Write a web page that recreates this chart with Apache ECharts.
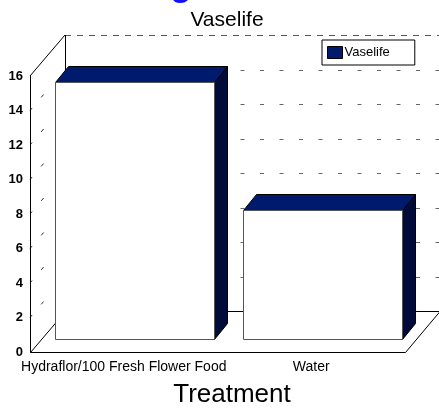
<!DOCTYPE html>
<html>
<head>
<meta charset="utf-8">
<script src="https://cdn.jsdelivr.net/npm/echarts@6/dist/echarts.min.js"></script>
<style>html,body{margin:0;padding:0;background:#fff}#c{width:439px;height:412px}</style>
</head>
<body>
<div id="c"></div>
<script>
// ---- data ----
const categories = ['Hydraflor/100 Fresh Flower Food', 'Water'];
const vaselife = [14.9, 7.5];
const yTicks = [0, 2, 4, 6, 8, 10, 12, 14, 16];
const seriesName = 'Vaselife';
const chartTitle = 'Vaselife';
const xTitle = 'Treatment';

// ---- styling geometry ----
const FONT = "'Liberation Sans', Arial, sans-serif";
const WALL = [35, -41];      // full depth offset
const BFRONT = [11, -13];    // bar front plane offset
const BDEPTH = [13, -16];    // bar depth
const BAR_RATIO = 0.85;
const NAVY_TOP = '#001a6e';
const NAVY_SIDE = '#000b3a';

const chart = echarts.init(document.getElementById('c'), null, {renderer: 'canvas'});

function px(v){ return Math.round(v) + 0.5; }

function renderFrame(params, api) {
  const bandW = api.size([1, 0])[0];
  const xl = api.coord([0, 0])[0] - bandW / 2;
  const xr = api.coord([categories.length - 1, 0])[0] + bandW / 2;
  const y0 = api.coord([0, 0])[1];
  const yTop = api.coord([0, yTicks[yTicks.length - 1]])[1];
  const ch = [];
  // back wall gridlines
  yTicks.forEach(function (t, i) {
    if (t === 0) return;
    const y = api.coord([0, t])[1] + WALL[1];
    const isTop = i === yTicks.length - 1;
    ch.push({type: 'line', shape: {x1: xl + WALL[0], y1: px(y), x2: xr + WALL[0] + 5, y2: px(y)},
      style: {stroke: isTop ? '#555' : '#666', lineWidth: 1, lineDash: isTop ? [6, 6] : [4, 15.5]}});
    // side wall dashes
    if (!isTop) {
      const yf = api.coord([0, t])[1];
      [[0, 0.06], [0.32, 0.39]].forEach(function (s) {
        ch.push({type: 'line', shape: {x1: xl + WALL[0] * s[0], y1: yf + WALL[1] * s[0], x2: xl + WALL[0] * s[1], y2: yf + WALL[1] * s[1]},
          style: {stroke: '#333', lineWidth: 1}});
      });
    }
  });
  // back wall left edge
  ch.push({type: 'line', shape: {x1: px(xl + WALL[0]), y1: yTop + WALL[1], x2: px(xl + WALL[0]), y2: y0 + WALL[1]},
    style: {stroke: '#000', lineWidth: 1}});
  // side wall top edge
  ch.push({type: 'line', shape: {x1: xl, y1: yTop, x2: xl + WALL[0], y2: yTop + WALL[1]},
    style: {stroke: '#000', lineWidth: 1}});
  // floor
  ch.push({type: 'polygon', shape: {points: [[px(xl), px(y0)], [px(xr), px(y0)], [xr + WALL[0], px(y0 + WALL[1])], [px(xl + WALL[0]), px(y0 + WALL[1])]]},
    style: {fill: '#fff', stroke: '#000', lineWidth: 1}});
  return {type: 'group', children: ch};
}

function renderFront(params, api) {
  const xl = api.coord([0, 0])[0] - api.size([1, 0])[0] / 2;
  const y0 = api.coord([0, 0])[1];
  const yTop = api.coord([0, yTicks[yTicks.length - 1]])[1];
  return {type: 'line', shape: {x1: px(xl), y1: yTop, x2: px(xl), y2: y0 + 0.5}, style: {stroke: '#000', lineWidth: 1}};
}

function renderBar(params, api) {
  const idx = api.value(0), v = api.value(1);
  const top = api.coord([idx, v]);
  const base = api.coord([idx, 0]);
  const bw = api.size([1, 0])[0] * BAR_RATIO;
  const x0 = Math.round(top[0] - bw / 2 + BFRONT[0]) + 0.5;
  const x1 = Math.round(top[0] + bw / 2 + BFRONT[0]) + 0.5;
  const yt = Math.round(top[1] + BFRONT[1]) + 0.5;
  const yb = Math.round(base[1] + BFRONT[1]) + 0.5;
  const dx = BDEPTH[0], dy = BDEPTH[1];
  return {type: 'group', children: [
    {type: 'polygon', shape: {points: [[x1, yt], [x1 + dx, yt + dy], [x1 + dx, yb + dy], [x1, yb]]},
      style: {fill: NAVY_SIDE, stroke: '#000', lineWidth: 1}},
    {type: 'polygon', shape: {points: [[x0, yt], [x1, yt], [x1 + dx, yt + dy], [x0 + dx, yt + dy]]},
      style: {fill: NAVY_TOP, stroke: '#000', lineWidth: 1}},
    {type: 'rect', shape: {x: x0, y: yt, width: x1 - x0, height: yb - yt},
      style: {fill: '#fff', stroke: '#555', lineWidth: 1}}
  ]};
}

chart.setOption({
  backgroundColor: '#fff',
  animation: false,
  grid: {left: 30, top: 76, width: 375, height: 276, containLabel: false},
  legend: {
    data: [seriesName], left: 322, top: 40, icon: 'rect', itemWidth: 15, itemHeight: 12,
    padding: [6, 25, 6, 5], borderColor: '#000', borderWidth: 1, backgroundColor: '#fff',
    itemStyle: {borderColor: '#000', borderWidth: 1},
    textStyle: {fontFamily: FONT, fontSize: 13, color: '#000', padding: [0, 0, 0, -3]}
  },
  xAxis: {
    type: 'category', data: categories, boundaryGap: true,
    axisLine: {show: false}, axisTick: {show: false}, splitLine: {show: false},
    axisLabel: {interval: 0, margin: 8, fontFamily: FONT, fontSize: 14, color: '#000'}
  },
  yAxis: {
    type: 'value', min: 0, max: 16, interval: 2,
    axisLine: {show: false}, axisTick: {show: false}, splitLine: {show: false},
    axisLabel: {margin: 7, fontFamily: FONT, fontSize: 13, fontWeight: 'bold', color: '#000'}
  },
  graphic: [
    {type: 'text', x: 181, y: -15, silent: true,
      style: {text: 'g', font: 'bold 36px ' + FONT, fill: '#1010ff', textAlign: 'center', textVerticalAlign: 'middle'}},
    {type: 'text', x: 227, y: 20, silent: true,
      style: {text: chartTitle, font: '21px ' + FONT, fill: '#000', textAlign: 'center', textVerticalAlign: 'middle'}},
    {type: 'text', x: 232, y: 395, silent: true,
      style: {text: xTitle, font: '26px ' + FONT, fill: '#000', textAlign: 'center', textVerticalAlign: 'middle'}}
  ],
  series: [
    {type: 'custom', name: 'frame', data: [[0, 0]], renderItem: renderFrame, silent: true, z: 1},
    {type: 'custom', name: seriesName, data: categories.map(function (c, i) { return [i, vaselife[i]]; }),
      encode: {x: 0, y: 1}, renderItem: renderBar, itemStyle: {color: NAVY_TOP}, z: 2, silent: true},
    {type: 'custom', name: 'front', data: [[0, 0]], renderItem: renderFront, silent: true, z: 3}
  ]
});
</script>
</body>
</html>
